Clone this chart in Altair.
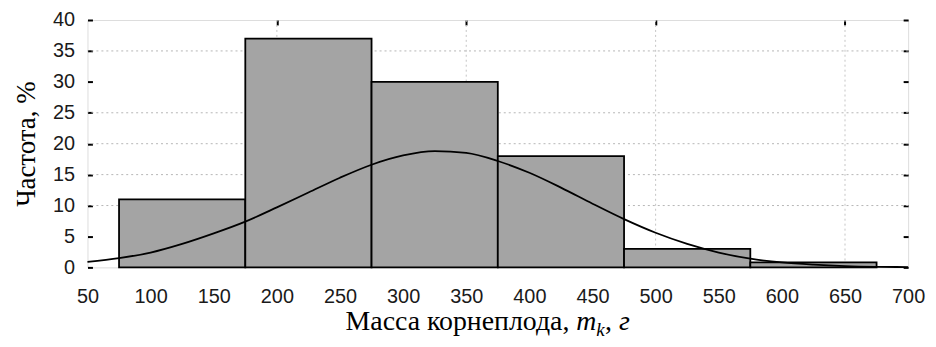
import altair as alt
import pandas as pd

# Histogram bins (g) and frequencies (%)
bin_start = [75, 175, 275, 375, 475, 575]
bin_end = [175, 275, 375, 475, 575, 675]
freq = [11, 37, 30, 18, 3, 0.8]

# Fitted normal curve
curve_x = [50, 75, 100, 125, 150, 175, 200, 225, 250, 275, 300, 325, 350,
           375, 400, 425, 450, 475, 500, 525, 550, 575, 600, 625, 650, 675, 700]
curve_y = [0.9, 1.5, 2.4, 3.8, 5.5, 7.4, 9.7, 12.1, 14.5, 16.6, 18.1, 18.8, 18.5,
           17.2, 15.3, 12.9, 10.3, 7.8, 5.6, 3.8, 2.4, 1.4, 0.8, 0.45, 0.22, 0.1, 0.05]

grid_y = [10, 15, 20, 25, 35]
grid_x = [200, 350, 500, 650]
x_ticks = list(range(50, 701, 50))
y_ticks = list(range(0, 41, 5))

bars = pd.DataFrame({"start": bin_start, "end": bin_end, "freq": freq})
curve = pd.DataFrame({"x": curve_x, "y": curve_y})
gy = pd.DataFrame({"g": grid_y})
gx = pd.DataFrame({"g": grid_x})

xs = alt.Scale(domain=[50, 700], nice=False, zero=False)
ys = alt.Scale(domain=[0, 40], nice=False)

LABEL_FONT = "Liberation Sans"
SERIF = "Liberation Serif"

hgrid = alt.Chart(gy).mark_rule(color="#b5b5b5", strokeWidth=1, strokeDash=[2, 3]).encode(
    y=alt.Y("g:Q", scale=ys,
            axis=alt.Axis(orient="right", values=y_ticks, labels=False, domain=False,
                          grid=False, ticks=True, tickSize=5, offset=-5,
                          tickColor="black", tickWidth=2, title=None))
)

vgrid = alt.Chart(gx).mark_rule(color="#c5c5c5", strokeWidth=1, strokeDash=[2, 3]).encode(
    x=alt.X("g:Q", scale=xs,
            axis=alt.Axis(orient="top", values=grid_x, labels=False, domain=False,
                          grid=False, ticks=True, tickSize=5, offset=-5,
                          tickColor="black", tickWidth=2, title=None))
)

rects = alt.Chart(bars).mark_rect(fill="#a4a4a4", stroke="black", strokeWidth=1.8).encode(
    x=alt.X("start:Q", scale=xs,
            axis=alt.Axis(orient="bottom", values=x_ticks, ticks=False, domain=False,
                          grid=False, labelPadding=19, labelFont=LABEL_FONT,
                          labelFontSize=20, labelColor="#1a1a1a", title=None,
                          labelFlush=False)),
    x2="end:Q",
    y=alt.Y("freq:Q", scale=ys,
            axis=alt.Axis(orient="left", values=y_ticks, ticks=True, tickSize=5,
                          offset=-5, domain=False, grid=False, tickColor="black",
                          tickWidth=2, labelPadding=13, labelFont=LABEL_FONT,
                          labelFontSize=20, labelColor="#1a1a1a",
                          labelBaseline="middle",
                          title="Частота, %", titleFont=SERIF, titleFontSize=27,
                          titleFontWeight="normal", titleColor="black",
                          titlePadding=12)),
    y2=alt.datum(0),
)

line = alt.Chart(curve).mark_line(color="black", strokeWidth=1.8, interpolate="monotone").encode(
    x=alt.X("x:Q", scale=xs, axis=None),
    y=alt.Y("y:Q", scale=ys, axis=None),
)

def txt(s, x, y, size=28, italic=False, align="left"):
    return alt.Chart(pd.DataFrame({"t": [s]})).mark_text(
        font=SERIF, fontSize=size, fontStyle="italic" if italic else "normal",
        align=align, baseline="alphabetic", color="black"
    ).encode(text="t:N", x=alt.value(x), y=alt.value(y))

TX = 485
TY = 312
title_parts = [
    txt("Масса корнеплода,", TX, TY, align="right"),
    txt("m", TX + 7, TY, italic=True),
    txt("k", TX + 27, TY + 6, size=19, italic=True),
    txt(",", TX + 36, TY),
    txt("г", TX + 50, TY, italic=True),
]

chart = alt.layer(hgrid, vgrid, rects, line, *title_parts).resolve_axis(
    x="independent", y="independent"
).properties(
    width=826, height=249,
    padding={"left": 80, "top": 11, "right": 20, "bottom": 71},
    autosize=alt.AutoSizeParams(type="none"),
).configure_view(stroke="black", strokeWidth=2).configure(background="white")

chart.save("out.html", embed_options={"renderer": "svg", "actions": False})
